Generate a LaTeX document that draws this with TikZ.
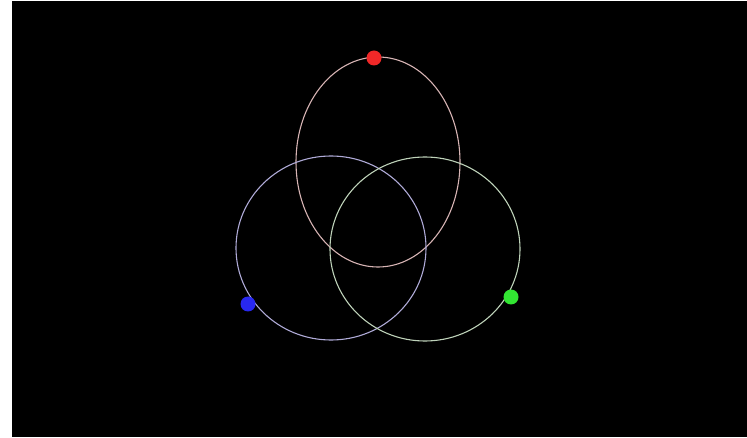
\documentclass[tikz,border=0pt]{standalone}
\usepackage{tikz}
\usetikzlibrary{calc,positioning}
\definecolor{ringred}{RGB}{215,180,180}
\definecolor{ringblue}{RGB}{175,170,215}
\definecolor{ringgreen}{RGB}{190,210,185}
\definecolor{dotred}{RGB}{240,40,40}
\definecolor{dotblue}{RGB}{40,40,240}
\definecolor{dotgreen}{RGB}{50,230,50}
\tikzset{ring/.style={line width=1.1pt},
  bead/.style={circle,inner sep=0pt,minimum size=15pt}}

\begin{document}
\begin{tikzpicture}[x=1pt,y=-1pt]

\useasboundingbox (0,0) rectangle (747,438);
\fill[white] (0,0) rectangle (747,438);
\fill[black] (12,1) rectangle (747,437);

\draw [ring, ringred] (378,162) ellipse (82 and 105);
\draw [ring, ringblue] (331,248) ellipse (95 and 92);
\draw [ring, ringgreen] (425,249) ellipse (95 and 92);

\node [bead, fill=dotred] (topdot) at (374,58) {};
\node [bead, fill=dotblue] (leftdot) at (248,304) {};
\node [bead, fill=dotgreen] (rightdot) at (511,297) {};

\end{tikzpicture}
\end{document}
